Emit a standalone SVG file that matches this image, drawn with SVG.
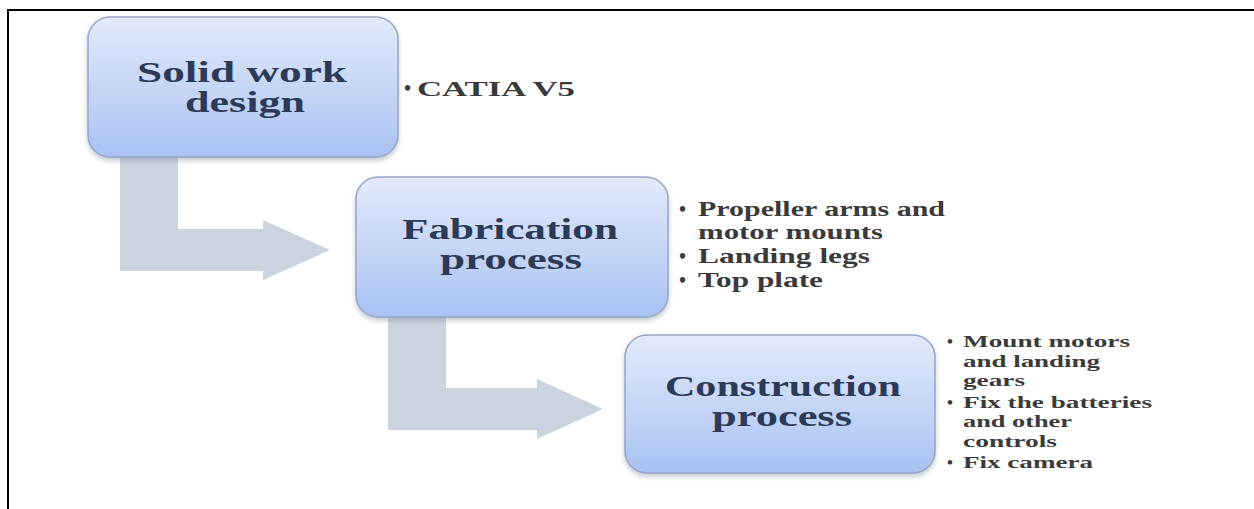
<svg xmlns="http://www.w3.org/2000/svg" width="1254" height="509" viewBox="0 0 1254 509">
  <style>
    .box { fill: url(#boxGrad); stroke: #97a7c6; stroke-width: 1.5; filter: url(#shadow); }
    .title { font-family: "Liberation Serif", "DejaVu Serif", serif; font-weight: bold; font-size: 30px; fill: #2c3a57; text-anchor: start; }
    .bul2 { font-family: "Liberation Serif", "DejaVu Serif", serif; font-weight: bold; font-size: 20px; fill: #3a3a3a; }
    .bul3 { font-family: "Liberation Serif", "DejaVu Serif", serif; font-weight: bold; font-size: 17px; fill: #3a3a3a; }
    .bul1 { font-family: "Liberation Serif", "DejaVu Serif", serif; font-weight: bold; font-size: 20px; fill: #3a3a3a; }
    .arrow { fill: #cbd3df; }
    .frame { stroke: #000; stroke-width: 2; fill: none; }
  </style>
  <defs>
    <linearGradient id="boxGrad" x1="0" y1="0" x2="0" y2="1">
      <stop offset="0" stop-color="#e3eafb"/>
      <stop offset="1" stop-color="#a9c2f3"/>
    </linearGradient>
    <filter id="shadow" x="-10%" y="-10%" width="120%" height="130%">
      <feDropShadow dx="0" dy="3" stdDeviation="2.5" flood-color="#7b879c" flood-opacity="0.45"/>
    </filter>
  </defs>
  <rect width="1254" height="509" fill="#ffffff"/>
  <path class="frame" d="M8 509 V10 H1254"/>

  <g id="connectors">
    <path class="arrow" d="M120 157 H178 V229 H263 V220 L330 250 L263 280 V271 H120 Z"/>
    <path class="arrow" d="M388 317 H446 V388 H537 V379 L603 409 L537 439 V430 H388 Z"/>
  </g>

  <g id="node-solid-work">
    <rect class="box" x="88" y="17" width="310" height="140" rx="22"/>
    <text class="title" x="137" y="82" textLength="210" lengthAdjust="spacingAndGlyphs">Solid work</text>
    <text class="title" x="185" y="112" textLength="120" lengthAdjust="spacingAndGlyphs">design</text>
  </g>
  <g id="notes-solid-work">
    <text class="bul1" x="404" y="95">•</text>
    <text class="bul1" x="417" y="96" textLength="158" lengthAdjust="spacingAndGlyphs">CATIA V5</text>
  </g>

  <g id="node-fabrication">
    <rect class="box" x="356" y="177" width="312" height="140" rx="22"/>
    <text class="title" x="402" y="239" textLength="216" lengthAdjust="spacingAndGlyphs">Fabrication</text>
    <text class="title" x="440" y="269" textLength="142" lengthAdjust="spacingAndGlyphs">process</text>
  </g>
  <g id="notes-fabrication">
    <text class="bul2" x="679" y="216">•</text>
    <text class="bul2" x="698" y="216" textLength="247" lengthAdjust="spacingAndGlyphs">Propeller arms and</text>
    <text class="bul2" x="698" y="239" textLength="185" lengthAdjust="spacingAndGlyphs">motor mounts</text>
    <text class="bul2" x="679" y="263">•</text>
    <text class="bul2" x="698" y="263" textLength="172" lengthAdjust="spacingAndGlyphs">Landing legs</text>
    <text class="bul2" x="679" y="287">•</text>
    <text class="bul2" x="698" y="287" textLength="125" lengthAdjust="spacingAndGlyphs">Top plate</text>
  </g>

  <g id="node-construction">
    <rect class="box" x="625" y="335" width="310" height="138" rx="22"/>
    <text class="title" x="665" y="396" textLength="236" lengthAdjust="spacingAndGlyphs">Construction</text>
    <text class="title" x="712" y="426" textLength="140" lengthAdjust="spacingAndGlyphs">process</text>
  </g>
  <g id="notes-construction">
    <text class="bul3" x="947" y="347">•</text>
    <text class="bul3" x="963" y="347" textLength="167" lengthAdjust="spacingAndGlyphs">Mount motors</text>
    <text class="bul3" x="963" y="367" textLength="137" lengthAdjust="spacingAndGlyphs">and landing</text>
    <text class="bul3" x="963" y="386" textLength="62" lengthAdjust="spacingAndGlyphs">gears</text>
    <text class="bul3" x="947" y="408">•</text>
    <text class="bul3" x="963" y="408" textLength="189" lengthAdjust="spacingAndGlyphs">Fix the batteries</text>
    <text class="bul3" x="963" y="427" textLength="109" lengthAdjust="spacingAndGlyphs">and other</text>
    <text class="bul3" x="963" y="447" textLength="94" lengthAdjust="spacingAndGlyphs">controls</text>
    <text class="bul3" x="947" y="468">•</text>
    <text class="bul3" x="963" y="468" textLength="130" lengthAdjust="spacingAndGlyphs">Fix camera</text>
  </g>
</svg>
